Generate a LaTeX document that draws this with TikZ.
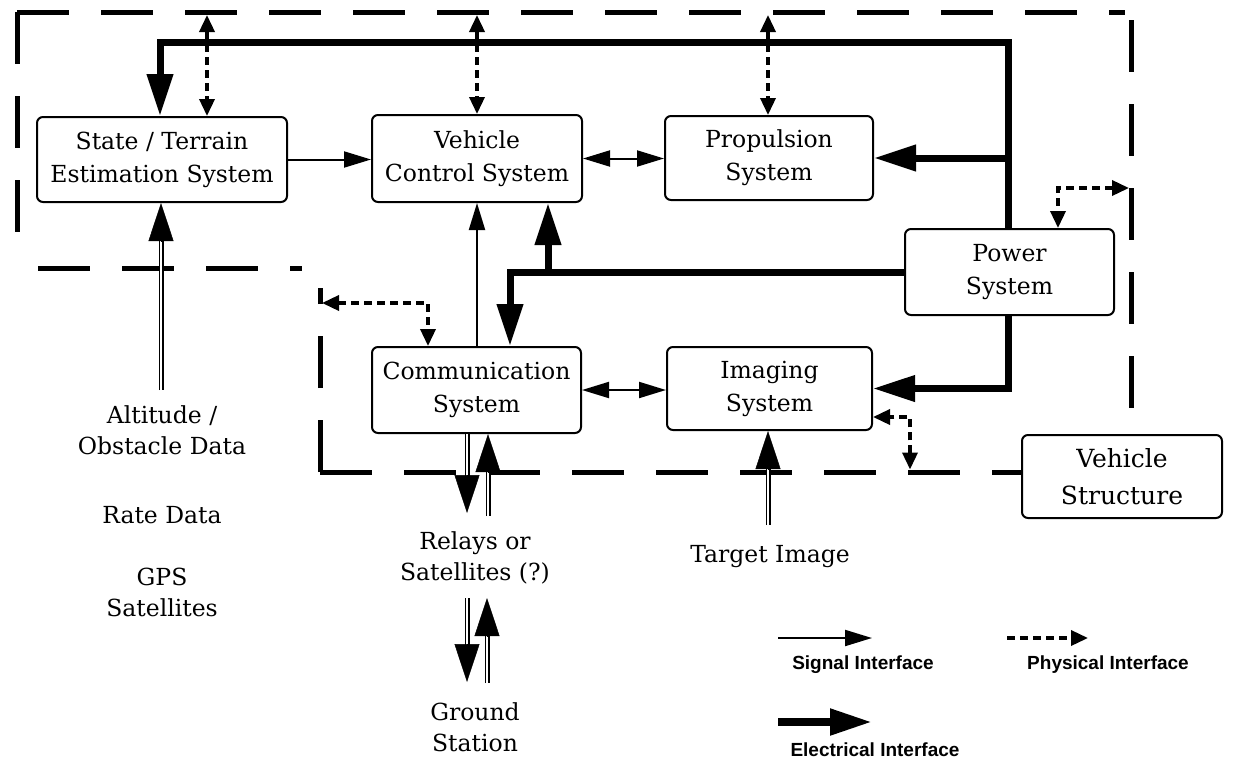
\documentclass[tikz,border=0pt]{standalone}
\usepackage{fontspec}
\setmainfont{DejaVu Serif}
\newfontfamily\legendfont{Liberation Sans}
\usetikzlibrary{arrows.meta,calc}
\begin{document}
\begin{tikzpicture}[x=1pt,y=-1pt,
  box/.style={draw, line width=2pt, rounded corners=6pt, align=center, inner sep=0pt,
    font=\fontsize{23.5}{33}\selectfont},
  lbl/.style={align=center, inner sep=0pt, font=\fontsize{23.5}{31}\selectfont},
  leg/.style={inner sep=0pt, font=\legendfont\bfseries\fontsize{19}{23}\selectfont},
  bound/.style={line width=5pt, dash pattern=on 52pt off 32pt},
  sig/.style={line width=2pt, -{Triangle[length=27pt,width=16pt]}},
  sigboth/.style={line width=2pt, {Triangle[length=27pt,width=16pt]}-{Triangle[length=27pt,width=16pt]}},
  elec/.style={line width=7pt, -{Triangle[length=42pt,width=25pt]}},
  phys/.style={line width=3.5pt, dash pattern=on 8pt off 5pt,
    {Triangle[length=17pt,width=15pt]}-{Triangle[length=17pt,width=15pt]}},
  physend/.style={line width=3.5pt, dash pattern=on 8pt off 5pt, -{Triangle[length=17pt,width=15pt]}},
  dline/.style={draw, double, double distance=2.4pt, line width=1.3pt},
  dtip/.style={line width=0.5pt, -{Triangle[length=38pt,width=25pt]}}
]
\useasboundingbox (0,0) rectangle (1234,761);

% subsystem blocks
\node[box, minimum width=250pt, minimum height=85pt] (st) at (162,159.5) {State / Terrain\\Estimation System};
\node[box, minimum width=210pt, minimum height=87pt] (vc) at (477,158.5) {Vehicle\\Control System};
\node[box, minimum width=208pt, minimum height=84pt] (pr) at (769,158) {Propulsion\\System};
\node[box, minimum width=209pt, minimum height=86pt] (pw) at (1009.5,272) {Power\\System};
\node[box, minimum width=209pt, minimum height=86pt] (cm) at (476.5,390) {Communication\\System};
\node[box, minimum width=205pt, minimum height=83pt] (im) at (769.5,388.5) {Imaging\\System};
\node[box, minimum width=200pt, minimum height=83pt, font=\fontsize{25}{37}\selectfont] (vs) at (1122,476.5) {Vehicle\\Structure};

% vehicle structure boundary
\coordinate (bTL) at (17,12);
\coordinate (bTR) at (1125,12);
\coordinate (bR) at (1131,20);
\coordinate (bLB) at (17,264);
\coordinate (bS1) at (38,268);
\coordinate (bS2) at (302,268);
\coordinate (bC) at (320,472);
\coordinate (bCU) at (320,288);
\coordinate (bBR) at (1022,472);
\draw[bound] (bTL) -- (bLB);
\draw[bound] (bTL) -- (bTR);
\draw[bound] (bR) -- (vs.north -| bR);
\draw[bound] (bS1) -- (bS2);
\draw[bound] (bC) -- (bCU);
\draw[bound] (bC) -- (bBR);

% electrical interfaces
\coordinate (busR) at (1008,42);
\coordinate (busL) at (160,42);
\draw[elec] (pw.north -| busR) -- (busR) -- (busL) -- (st.north -| busL);
\draw[elec] (busR |- pr.east) -- (pr.east);
\draw[elec] (pw.south -| busR) |- (im.east);
\coordinate (busM) at (510,272);
\coordinate (tapV) at (548,272);
\draw[elec] (pw.west) -- (busM) -- (cm.north -| busM);
\draw[elec] (tapV) -- (vc.south -| tapV);

% signal interfaces
\draw[sig] (st.east) -- (vc.west |- st.east);
\draw[sigboth] (vc.east) -- (pr.west |- vc.east);
\draw[sig] (vc.south |- cm.north) -- (vc.south);
\draw[sigboth] (cm.east) -- (im.west |- cm.east);

% physical interfaces
\coordinate (p1) at (207,15);
\coordinate (p2) at (477,15);
\coordinate (p3) at (768,15);
\draw[phys] (p1) -- (st.north -| p1);
\draw[phys] (p2) -- (vc.north -| p2);
\draw[phys] (p3) -- (pr.north -| p3);
\coordinate (p4) at (1129,188);
\coordinate (k4) at (1058,188);
\draw[phys] (p4) -- (k4) -- (pw.north -| k4);
\coordinate (p5) at (322,303);
\coordinate (k5) at (428,303);
\draw[phys] (p5) -- (k5) -- (cm.north -| k5);
\coordinate (p6) at (910,469.5);
\coordinate (k6) at (910,417);
\draw[phys] (p6) -- (k6) -- (im.east |- k6);

% external data links
\coordinate (a1) at (161,390);
\draw[dline, shorten >=30pt] (a1) -- (st.south -| a1);
\draw[dtip] ($(st.south -| a1)+(0,38)$) -- (st.south -| a1);

\coordinate (c1) at (467,513);
\draw[dline, shorten >=30pt] (cm.south -| c1) -- (c1);
\draw[dtip] ($(c1)+(0,-38)$) -- (c1);
\coordinate (c2) at (488,516);
\draw[dline, shorten >=30pt] (c2) -- (cm.south -| c2);
\draw[dtip] ($(cm.south -| c2)+(0,38)$) -- (cm.south -| c2);

\coordinate (g1a) at (467,598);
\coordinate (g1b) at (467,682);
\draw[dline, shorten >=30pt] (g1a) -- (g1b);
\draw[dtip] ($(g1b)+(0,-38)$) -- (g1b);
\coordinate (g2a) at (487,683);
\coordinate (g2b) at (487,598);
\draw[dline, shorten >=30pt] (g2a) -- (g2b);
\draw[dtip] ($(g2b)+(0,38)$) -- (g2b);

\coordinate (t1) at (768,525);
\draw[dline, shorten >=30pt] (t1) -- (im.south -| t1);
\draw[dtip] ($(im.south -| t1)+(0,38)$) -- (im.south -| t1);

% external labels
\node[lbl] (alt) at (162,430) {Altitude /\\Obstacle Data};
\node[lbl] (rate) at (162,515) {Rate Data};
\node[lbl] (gps) at (162,592) {GPS\\Satellites};
\node[lbl] (rel) at (475,558) {Relays or\\Satellites (?)};
\node[lbl] (gnd) at (475,727) {Ground\\Station};
\node[lbl] (tgt) at (770,557) {Target Image};

% legend
\coordinate (ls1) at (778,638);
\coordinate (ls2) at (872,638);
\draw[sig] (ls1) -- (ls2);
\node[leg] (lsig) at (863,665) {Signal Interface};
\coordinate (lp1) at (1007,638);
\coordinate (lp2) at (1088,638);
\draw[physend] (lp1) -- (lp2);
\node[leg] (lphy) at (1108,665) {Physical Interface};
\coordinate (le1) at (778,722);
\coordinate (le2) at (872,722);
\draw[elec, line width=8pt] (le1) -- (le2);
\node[leg] (lel) at (875,750) {Electrical Interface};
\end{tikzpicture}
\end{document}
